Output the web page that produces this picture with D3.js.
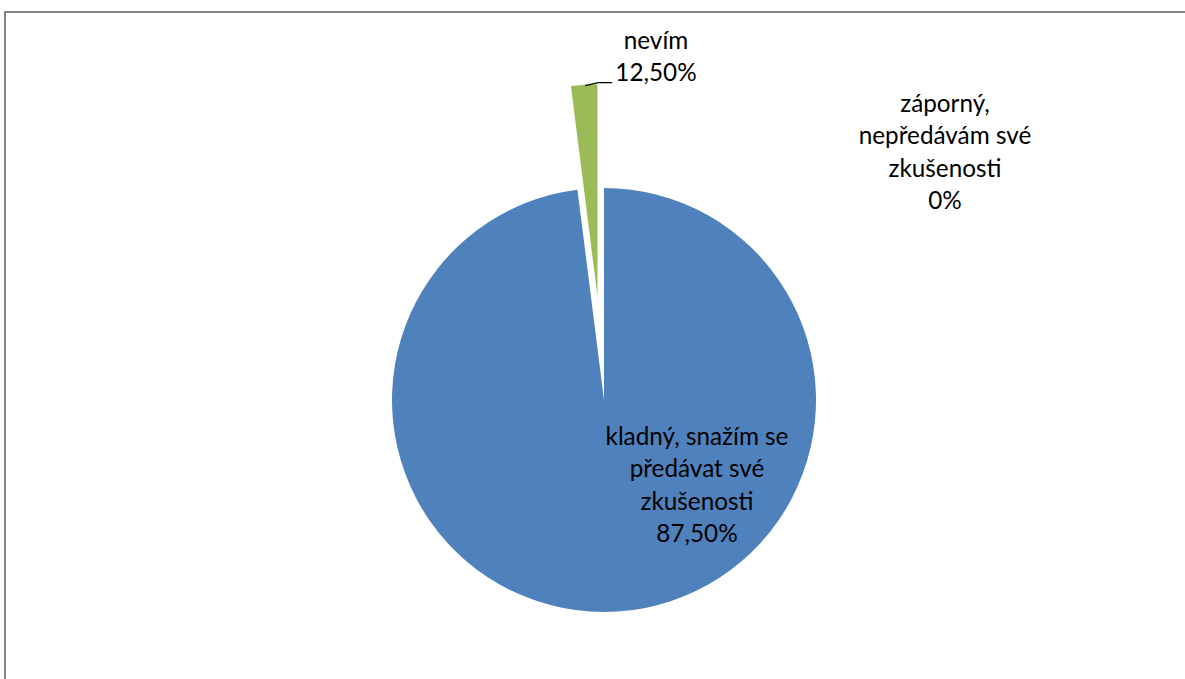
<!DOCTYPE html>
<html>
<head>
<meta charset="utf-8">
<script src="https://cdn.jsdelivr.net/npm/d3@7"></script>
<style>
  html, body { margin: 0; padding: 0; background: #fff; }
  svg { display: block; }
  text { font-family: Lato, "Open Sans", sans-serif; fill: #000; }
</style>
</head>
<body>
<svg id="chart" width="1185" height="679"></svg>
<script>
// Data (slice sizes as drawn; label texts as printed in the chart)
const categories = ["kladný, snažím se předávat své zkušenosti", "záporný, nepředávám své zkušenosti", "nevím"];
const sliceValues = [98, 0, 2];
const labelLines = [
  ["kladný, snažím se", "předávat své", "zkušenosti", "87,50%"],
  ["záporný,", "nepředávám své", "zkušenosti", "0%"],
  ["nevím", "12,50%"]
];
const colors = ["#4F81BD", "#C0504D", "#9BBB59"];
const explode = [0, 0, 104];

const svg = d3.select("#chart");

// outer chart border (extends past right and bottom edge)
svg.append("rect")
  .attr("x", 5).attr("y", 12)
  .attr("width", 1300).attr("height", 800)
  .attr("fill", "none").attr("stroke", "#868686").attr("stroke-width", 2);

const cx = 604, cy = 400, r = 212;
const g = svg.append("g").attr("transform", `translate(${cx},${cy})`);

const pie = d3.pie().sort(null).value(d => d).startAngle(0).endAngle(2 * Math.PI);
const arcs = pie(sliceValues);
const arc = d3.arc().innerRadius(0).outerRadius(r);

function offset(d, i) {
  const mid = (d.startAngle + d.endAngle) / 2;
  return [Math.sin(mid) * explode[i], -Math.cos(mid) * explode[i]];
}

g.selectAll("path.slice")
  .data(arcs)
  .join("path")
  .attr("class", "slice")
  .attr("d", arc)
  .attr("fill", (d, i) => colors[i])
  .attr("transform", (d, i) => {
    const [ox, oy] = offset(d, i);
    return `translate(${ox},${oy})`;
  });

const fs = 24.3, lh = 32.5;
// label anchor positions relative to centre (dx, dy of first line's centre)
const labelPos = [
  [93, 36],
  [341, -297],
  [52, -360]
];

labelLines.forEach((lines, i) => {
  const t = g.append("text")
    .attr("text-anchor", "middle")
    .attr("font-size", fs);
  lines.forEach((ln, k) => {
    t.append("tspan")
      .attr("x", labelPos[i][0])
      .attr("y", labelPos[i][1] + k * lh)
      .attr("dy", "0.35em")
      .text(ln);
  });
});

// leader line for "nevím"
const gArc = arcs[2];
const [gox, goy] = offset(gArc, 2);
const outerPt = d3.arc().innerRadius(r).outerRadius(r).centroid(gArc);
const p0 = [outerPt[0] + gox + 1, outerPt[1] + goy + 1];
g.append("path")
  .attr("d", d3.line()([[p0[0], p0[1]], [p0[0] + 13, p0[1] - 3], [p0[0] + 27, p0[1] - 3]]))
  .attr("fill", "none").attr("stroke", "#000").attr("stroke-width", 1.2);
</script>
</body>
</html>
